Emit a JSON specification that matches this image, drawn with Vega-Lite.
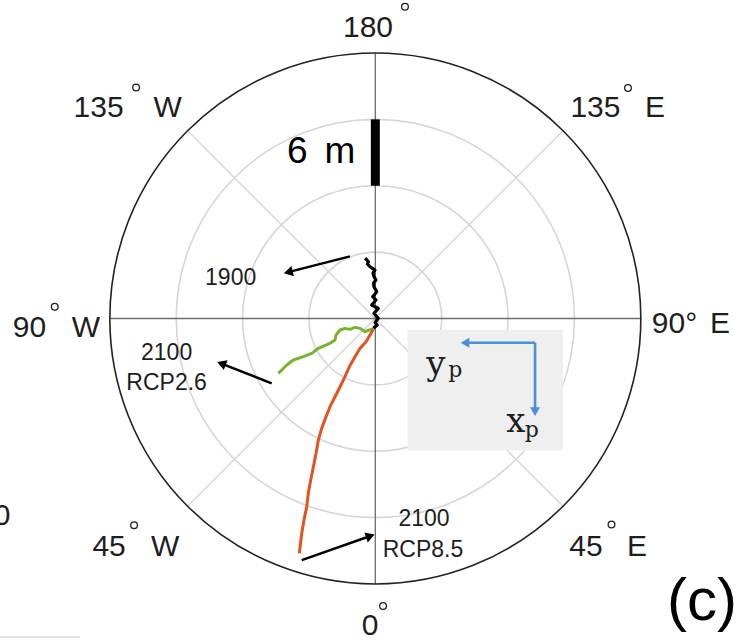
{
  "$schema": "https://vega.github.io/schema/vega-lite/v6.json",
  "width": 750,
  "height": 640,
  "autosize": {"type": "none"},
  "padding": 0,
  "background": "white",
  "view": {"stroke": null},
  "config": {"font": "Liberation Sans"},
  "datasets": {
    "rings": [{"r": 6}, {"r": 12}, {"r": 18}],
    "outer": [{"r": 24}],
    "spokes": [
      {"x": 0, "y": 0, "x2": 16.97, "y2": 16.97},
      {"x": 0, "y": 0, "x2": -16.97, "y2": 16.97},
      {"x": 0, "y": 0, "x2": 16.97, "y2": -16.97},
      {"x": 0, "y": 0, "x2": -16.97, "y2": -16.97}
    ],
    "axes": [
      {"x": -24, "y": 0, "x2": 24, "y2": 0},
      {"x": 0, "y": -24, "x2": 0, "y2": 24}
    ],
    "edge": [{"x": -33.93, "y": -28.79, "x2": -26.69, "y2": -28.79}],
    "box": [{"x": 2.91, "y": -1.04, "x2": 16.97, "y2": -11.94}],
    "bar": [{"x": 0, "y": 12, "x2": 0, "y2": 18}],
    "black": [
      {"i": 0, "x": -0.93, "y": 5.44},
      {"i": 1, "x": -0.80, "y": 5.33},
      {"i": 2, "x": -0.63, "y": 5.13},
      {"i": 3, "x": -0.71, "y": 4.93},
      {"i": 4, "x": -0.48, "y": 4.68},
      {"i": 5, "x": -0.30, "y": 4.56},
      {"i": 6, "x": -0.03, "y": 4.38},
      {"i": 7, "x": -0.21, "y": 4.11},
      {"i": 8, "x": -0.12, "y": 3.78},
      {"i": 9, "x": 0.06, "y": 3.48},
      {"i": 10, "x": -0.16, "y": 3.21},
      {"i": 11, "x": -0.12, "y": 2.87},
      {"i": 12, "x": 0.13, "y": 2.42},
      {"i": 13, "x": -0.24, "y": 1.97},
      {"i": 14, "x": 0.06, "y": 1.67},
      {"i": 15, "x": -0.33, "y": 1.22},
      {"i": 16, "x": 0.27, "y": 0.92},
      {"i": 17, "x": -0.12, "y": 0.47},
      {"i": 18, "x": 0.27, "y": 0.02},
      {"i": 19, "x": -0.03, "y": -0.38},
      {"i": 20, "x": 0.18, "y": -0.59},
      {"i": 21, "x": -0.18, "y": -0.89}
    ],
    "paths": [
      {"s": "RCP2.6", "i": 0, "x": -0.18, "y": -0.95},
      {"s": "RCP2.6", "i": 1, "x": -0.54, "y": -1.04},
      {"s": "RCP2.6", "i": 2, "x": -0.93, "y": -1.19},
      {"s": "RCP2.6", "i": 3, "x": -1.38, "y": -0.89},
      {"s": "RCP2.6", "i": 4, "x": -1.84, "y": -0.80},
      {"s": "RCP2.6", "i": 5, "x": -2.29, "y": -0.98},
      {"s": "RCP2.6", "i": 6, "x": -2.74, "y": -0.89},
      {"s": "RCP2.6", "i": 7, "x": -3.19, "y": -1.04},
      {"s": "RCP2.6", "i": 8, "x": -3.55, "y": -1.49},
      {"s": "RCP2.6", "i": 9, "x": -3.64, "y": -1.94},
      {"s": "RCP2.6", "i": 10, "x": -4.10, "y": -2.24},
      {"s": "RCP2.6", "i": 11, "x": -4.70, "y": -2.49},
      {"s": "RCP2.6", "i": 12, "x": -5.15, "y": -2.69},
      {"s": "RCP2.6", "i": 13, "x": -5.75, "y": -3.15},
      {"s": "RCP2.6", "i": 14, "x": -6.51, "y": -3.45},
      {"s": "RCP2.6", "i": 15, "x": -7.41, "y": -3.75},
      {"s": "RCP2.6", "i": 16, "x": -8.01, "y": -4.20},
      {"s": "RCP2.6", "i": 17, "x": -8.61, "y": -4.81},
      {"s": "RCP2.6", "i": 18, "x": -8.77, "y": -4.95},
      {"s": "RCP8.5", "i": 0, "x": -0.18, "y": -0.98},
      {"s": "RCP8.5", "i": 1, "x": -0.48, "y": -1.49},
      {"s": "RCP8.5", "i": 2, "x": -0.84, "y": -2.10},
      {"s": "RCP8.5", "i": 3, "x": -1.38, "y": -2.69},
      {"s": "RCP8.5", "i": 4, "x": -1.84, "y": -3.45},
      {"s": "RCP8.5", "i": 5, "x": -2.35, "y": -4.36},
      {"s": "RCP8.5", "i": 6, "x": -2.74, "y": -5.26},
      {"s": "RCP8.5", "i": 7, "x": -3.19, "y": -6.17},
      {"s": "RCP8.5", "i": 8, "x": -3.64, "y": -7.07},
      {"s": "RCP8.5", "i": 9, "x": -4.10, "y": -7.97},
      {"s": "RCP8.5", "i": 10, "x": -4.46, "y": -8.88},
      {"s": "RCP8.5", "i": 11, "x": -4.85, "y": -9.93},
      {"s": "RCP8.5", "i": 12, "x": -5.15, "y": -10.98},
      {"s": "RCP8.5", "i": 13, "x": -5.36, "y": -12.19},
      {"s": "RCP8.5", "i": 14, "x": -5.60, "y": -13.40},
      {"s": "RCP8.5", "i": 15, "x": -5.84, "y": -14.60},
      {"s": "RCP8.5", "i": 16, "x": -6.06, "y": -15.80},
      {"s": "RCP8.5", "i": 17, "x": -6.20, "y": -17.01},
      {"s": "RCP8.5", "i": 18, "x": -6.45, "y": -18.21},
      {"s": "RCP8.5", "i": 19, "x": -6.65, "y": -19.42},
      {"s": "RCP8.5", "i": 20, "x": -6.87, "y": -21.23}
    ],
    "arrows": [
      {"x": -2.30, "y": 5.61, "x2": -7.87, "y2": 4.19},
      {"x": -9.37, "y": -5.86, "x2": -13.91, "y2": -4.07},
      {"x": -6.65, "y": -21.83, "x2": -0.45, "y2": -19.66}
    ],
    "bluearrows": [
      {"x": 14.44, "y": -2.19, "x2": 8.11, "y2": -2.19},
      {"x": 14.44, "y": -2.19, "x2": 14.44, "y2": -8.42}
    ],
    "angletext": [
      {"x": -0.66, "y": 25.47, "t": "180"},
      {"x": -25.02, "y": 18.21, "t": "135"},
      {"x": -18.78, "y": 18.21, "t": "W"},
      {"x": 19.90, "y": 18.21, "t": "135"},
      {"x": 25.28, "y": 18.21, "t": "E"},
      {"x": -31.26, "y": -1.67, "t": "90"},
      {"x": -26.17, "y": -1.67, "t": "W"},
      {"x": 27.05, "y": -1.31, "t": "90°"},
      {"x": 31.16, "y": -1.31, "t": "E"},
      {"x": -24.07, "y": -21.47, "t": "45"},
      {"x": -19.01, "y": -21.47, "t": "W"},
      {"x": 19.05, "y": -21.47, "t": "45"},
      {"x": 23.66, "y": -21.47, "t": "E"},
      {"x": -0.48, "y": -28.6, "t": "0"},
      {"x": -33.75, "y": -18.67, "t": "0"}
    ],
    "degrees": [
      {"x": 2.68, "y": 28.18},
      {"x": -21.63, "y": 20.88},
      {"x": 22.84, "y": 20.84},
      {"x": -28.98, "y": 1.06},
      {"x": -21.81, "y": -18.68},
      {"x": 21.35, "y": -18.62},
      {"x": 0.70, "y": -25.99}
    ],
    "notes": [
      {"x": -13.08, "y": 3.03, "t": "1900"},
      {"x": -18.87, "y": -3.75, "t": "2100"},
      {"x": -18.87, "y": -6.46, "t": "RCP2.6"},
      {"x": 4.40, "y": -18.76, "t": "2100"},
      {"x": 4.31, "y": -21.56, "t": "RCP8.5"}
    ],
    "scaletext": [
      {"x": -7.05, "y": 14.06, "t": "6"},
      {"x": -3.2, "y": 14.06, "t": "m"}
    ],
    "bigsym": [{"x": 5.47, "y": -5.11, "t": "y"}, {"x": 12.70, "y": -10.23, "t": "x"}],
    "subsym": [{"x": 7.23, "y": -5.29, "t": "p"}, {"x": 14.14, "y": -10.71, "t": "p"}],
    "panel": [{"x": 29.54, "y": -27.25, "t": "(c)"}]
  },
  "layer": [
    {
      "data": {"name": "rings"},
      "mark": {"type": "arc", "filled": false, "stroke": "#d6d6d6", "strokeWidth": 1.6, "theta": 0, "theta2": 6.2832},
      "encoding": {
        "x": {"datum": 0, "type": "quantitative", "scale": {"domain": [-33.93, 33.87], "nice": false, "zero": false}, "axis": null},
        "y": {"datum": 0, "type": "quantitative", "scale": {"domain": [-29.06, 28.79], "nice": false, "zero": false}, "axis": null},
        "radius": {"field": "r", "type": "quantitative", "stack": null, "scale": {"type": "linear", "domain": [0, 24], "range": [0, 265.5], "zero": true, "nice": false}},
        "radius2": {"value": 0}
      }
    },
    {
      "data": {"name": "spokes"},
      "mark": {"type": "rule", "stroke": "#d6d6d6", "strokeWidth": 1.4},
      "encoding": {
        "x": {"field": "x", "type": "quantitative", "scale": {"domain": [-33.93, 33.87], "nice": false, "zero": false}, "axis": null},
        "y": {"field": "y", "type": "quantitative", "scale": {"domain": [-29.06, 28.79], "nice": false, "zero": false}, "axis": null},
        "x2": {"field": "x2"},
        "y2": {"field": "y2"}
      }
    },
    {
      "data": {"name": "axes"},
      "mark": {"type": "rule", "stroke": "#6e6e6e", "strokeWidth": 1.3},
      "encoding": {
        "x": {"field": "x", "type": "quantitative", "scale": {"domain": [-33.93, 33.87], "nice": false, "zero": false}, "axis": null},
        "y": {"field": "y", "type": "quantitative", "scale": {"domain": [-29.06, 28.79], "nice": false, "zero": false}, "axis": null},
        "x2": {"field": "x2"},
        "y2": {"field": "y2"}
      }
    },
    {
      "data": {"name": "edge"},
      "mark": {"type": "rule", "stroke": "#c8c8c8", "strokeWidth": 1},
      "encoding": {
        "x": {"field": "x", "type": "quantitative", "scale": {"domain": [-33.93, 33.87], "nice": false, "zero": false}, "axis": null},
        "y": {"field": "y", "type": "quantitative", "scale": {"domain": [-29.06, 28.79], "nice": false, "zero": false}, "axis": null},
        "x2": {"field": "x2"},
        "y2": {"field": "y2"}
      }
    },
    {
      "data": {"name": "outer"},
      "mark": {"type": "arc", "filled": false, "stroke": "#222222", "strokeWidth": 1.6, "theta": 0, "theta2": 6.2832},
      "encoding": {
        "x": {"datum": 0, "type": "quantitative", "scale": {"domain": [-33.93, 33.87], "nice": false, "zero": false}, "axis": null},
        "y": {"datum": 0, "type": "quantitative", "scale": {"domain": [-29.06, 28.79], "nice": false, "zero": false}, "axis": null},
        "radius": {"field": "r", "type": "quantitative", "stack": null, "scale": {"type": "linear", "domain": [0, 24], "range": [0, 265.5], "zero": true, "nice": false}},
        "radius2": {"value": 0}
      }
    },
    {
      "data": {"name": "box"},
      "mark": {"type": "rect", "fill": "#efefef"},
      "encoding": {
        "x": {"field": "x", "type": "quantitative", "scale": {"domain": [-33.93, 33.87], "nice": false, "zero": false}, "axis": null},
        "y": {"field": "y", "type": "quantitative", "scale": {"domain": [-29.06, 28.79], "nice": false, "zero": false}, "axis": null},
        "x2": {"field": "x2"},
        "y2": {"field": "y2"}
      }
    },
    {
      "data": {"name": "bar"},
      "mark": {"type": "rule", "stroke": "#000000", "strokeWidth": 9},
      "encoding": {
        "x": {"field": "x", "type": "quantitative", "scale": {"domain": [-33.93, 33.87], "nice": false, "zero": false}, "axis": null},
        "y": {"field": "y", "type": "quantitative", "scale": {"domain": [-29.06, 28.79], "nice": false, "zero": false}, "axis": null},
        "x2": {"field": "x2"},
        "y2": {"field": "y2"}
      }
    },
    {
      "data": {"name": "paths"},
      "mark": {"type": "line", "strokeWidth": 3, "strokeJoin": "round"},
      "encoding": {
        "x": {"field": "x", "type": "quantitative", "scale": {"domain": [-33.93, 33.87], "nice": false, "zero": false}, "axis": null},
        "y": {"field": "y", "type": "quantitative", "scale": {"domain": [-29.06, 28.79], "nice": false, "zero": false}, "axis": null},
        "order": {"field": "i", "type": "quantitative"},
        "color": {"field": "s", "type": "nominal", "scale": {"domain": ["RCP2.6", "RCP8.5"], "range": ["#78b22e", "#e2531f"]}, "legend": null}
      }
    },
    {
      "data": {"name": "black"},
      "mark": {"type": "line", "strokeWidth": 3.2, "strokeJoin": "round", "color": "#000000"},
      "encoding": {
        "x": {"field": "x", "type": "quantitative", "scale": {"domain": [-33.93, 33.87], "nice": false, "zero": false}, "axis": null},
        "y": {"field": "y", "type": "quantitative", "scale": {"domain": [-29.06, 28.79], "nice": false, "zero": false}, "axis": null},
        "order": {"field": "i", "type": "quantitative"}
      }
    },
    {
      "data": {"name": "arrows"},
      "mark": {"type": "rule", "stroke": "#000000", "strokeWidth": 2.4},
      "encoding": {
        "x": {"field": "x", "type": "quantitative", "scale": {"domain": [-33.93, 33.87], "nice": false, "zero": false}, "axis": null},
        "y": {"field": "y", "type": "quantitative", "scale": {"domain": [-29.06, 28.79], "nice": false, "zero": false}, "axis": null},
        "x2": {"field": "x2"},
        "y2": {"field": "y2"}
      }
    },
    {
      "data": {"values": [{"x": -7.87, "y": 4.19}]},
      "mark": {"type": "point", "shape": "triangle-up", "filled": true, "color": "#000000", "size": 110, "angle": 256, "opacity": 1},
      "encoding": {
        "x": {"field": "x", "type": "quantitative", "scale": {"domain": [-33.93, 33.87], "nice": false, "zero": false}, "axis": null},
        "y": {"field": "y", "type": "quantitative", "scale": {"domain": [-29.06, 28.79], "nice": false, "zero": false}, "axis": null}
      }
    },
    {
      "data": {"values": [{"x": -13.91, "y": -4.07}]},
      "mark": {"type": "point", "shape": "triangle-up", "filled": true, "color": "#000000", "size": 110, "angle": 291, "opacity": 1},
      "encoding": {
        "x": {"field": "x", "type": "quantitative", "scale": {"domain": [-33.93, 33.87], "nice": false, "zero": false}, "axis": null},
        "y": {"field": "y", "type": "quantitative", "scale": {"domain": [-29.06, 28.79], "nice": false, "zero": false}, "axis": null}
      }
    },
    {
      "data": {"values": [{"x": -0.45, "y": -19.66}]},
      "mark": {"type": "point", "shape": "triangle-up", "filled": true, "color": "#000000", "size": 110, "angle": 71, "opacity": 1},
      "encoding": {
        "x": {"field": "x", "type": "quantitative", "scale": {"domain": [-33.93, 33.87], "nice": false, "zero": false}, "axis": null},
        "y": {"field": "y", "type": "quantitative", "scale": {"domain": [-29.06, 28.79], "nice": false, "zero": false}, "axis": null}
      }
    },
    {
      "data": {"name": "bluearrows"},
      "mark": {"type": "rule", "stroke": "#4a90d9", "strokeWidth": 2.6},
      "encoding": {
        "x": {"field": "x", "type": "quantitative", "scale": {"domain": [-33.93, 33.87], "nice": false, "zero": false}, "axis": null},
        "y": {"field": "y", "type": "quantitative", "scale": {"domain": [-29.06, 28.79], "nice": false, "zero": false}, "axis": null},
        "x2": {"field": "x2"},
        "y2": {"field": "y2"}
      }
    },
    {
      "data": {"values": [{"x": 8.11, "y": -2.19}]},
      "mark": {"type": "point", "shape": "triangle-up", "filled": true, "color": "#4a90d9", "size": 100, "angle": 270, "opacity": 1},
      "encoding": {
        "x": {"field": "x", "type": "quantitative", "scale": {"domain": [-33.93, 33.87], "nice": false, "zero": false}, "axis": null},
        "y": {"field": "y", "type": "quantitative", "scale": {"domain": [-29.06, 28.79], "nice": false, "zero": false}, "axis": null}
      }
    },
    {
      "data": {"values": [{"x": 14.44, "y": -8.42}]},
      "mark": {"type": "point", "shape": "triangle-up", "filled": true, "color": "#4a90d9", "size": 100, "angle": 180, "opacity": 1},
      "encoding": {
        "x": {"field": "x", "type": "quantitative", "scale": {"domain": [-33.93, 33.87], "nice": false, "zero": false}, "axis": null},
        "y": {"field": "y", "type": "quantitative", "scale": {"domain": [-29.06, 28.79], "nice": false, "zero": false}, "axis": null}
      }
    },
    {
      "data": {"name": "angletext"},
      "mark": {"type": "text", "fontSize": 30, "color": "#1e1e1e", "align": "center", "baseline": "alphabetic"},
      "encoding": {
        "x": {"field": "x", "type": "quantitative", "scale": {"domain": [-33.93, 33.87], "nice": false, "zero": false}, "axis": null},
        "y": {"field": "y", "type": "quantitative", "scale": {"domain": [-29.06, 28.79], "nice": false, "zero": false}, "axis": null},
        "text": {"field": "t"}
      }
    },
    {
      "data": {"name": "degrees"},
      "mark": {"type": "point", "shape": "circle", "filled": false, "color": "#1e1e1e", "size": 45, "strokeWidth": 1.3, "opacity": 1},
      "encoding": {
        "x": {"field": "x", "type": "quantitative", "scale": {"domain": [-33.93, 33.87], "nice": false, "zero": false}, "axis": null},
        "y": {"field": "y", "type": "quantitative", "scale": {"domain": [-29.06, 28.79], "nice": false, "zero": false}, "axis": null}
      }
    },
    {
      "data": {"name": "notes"},
      "mark": {"type": "text", "fontSize": 23, "color": "#1e1e1e", "align": "center", "baseline": "alphabetic"},
      "encoding": {
        "x": {"field": "x", "type": "quantitative", "scale": {"domain": [-33.93, 33.87], "nice": false, "zero": false}, "axis": null},
        "y": {"field": "y", "type": "quantitative", "scale": {"domain": [-29.06, 28.79], "nice": false, "zero": false}, "axis": null},
        "text": {"field": "t"}
      }
    },
    {
      "data": {"name": "scaletext"},
      "mark": {"type": "text", "fontSize": 37, "color": "#000000", "align": "center", "baseline": "alphabetic"},
      "encoding": {
        "x": {"field": "x", "type": "quantitative", "scale": {"domain": [-33.93, 33.87], "nice": false, "zero": false}, "axis": null},
        "y": {"field": "y", "type": "quantitative", "scale": {"domain": [-29.06, 28.79], "nice": false, "zero": false}, "axis": null},
        "text": {"field": "t"}
      }
    },
    {
      "data": {"name": "bigsym"},
      "mark": {"type": "text", "fontSize": 34, "font": "DejaVu Serif", "color": "#1e1e1e", "align": "center", "baseline": "alphabetic"},
      "encoding": {
        "x": {"field": "x", "type": "quantitative", "scale": {"domain": [-33.93, 33.87], "nice": false, "zero": false}, "axis": null},
        "y": {"field": "y", "type": "quantitative", "scale": {"domain": [-29.06, 28.79], "nice": false, "zero": false}, "axis": null},
        "text": {"field": "t"}
      }
    },
    {
      "data": {"name": "subsym"},
      "mark": {"type": "text", "fontSize": 22, "font": "DejaVu Serif", "color": "#1e1e1e", "align": "center", "baseline": "alphabetic"},
      "encoding": {
        "x": {"field": "x", "type": "quantitative", "scale": {"domain": [-33.93, 33.87], "nice": false, "zero": false}, "axis": null},
        "y": {"field": "y", "type": "quantitative", "scale": {"domain": [-29.06, 28.79], "nice": false, "zero": false}, "axis": null},
        "text": {"field": "t"}
      }
    },
    {
      "data": {"name": "panel"},
      "mark": {"type": "text", "fontSize": 60, "color": "#000000", "align": "center", "baseline": "alphabetic"},
      "encoding": {
        "x": {"field": "x", "type": "quantitative", "scale": {"domain": [-33.93, 33.87], "nice": false, "zero": false}, "axis": null},
        "y": {"field": "y", "type": "quantitative", "scale": {"domain": [-29.06, 28.79], "nice": false, "zero": false}, "axis": null},
        "text": {"field": "t"}
      }
    }
  ]
}
